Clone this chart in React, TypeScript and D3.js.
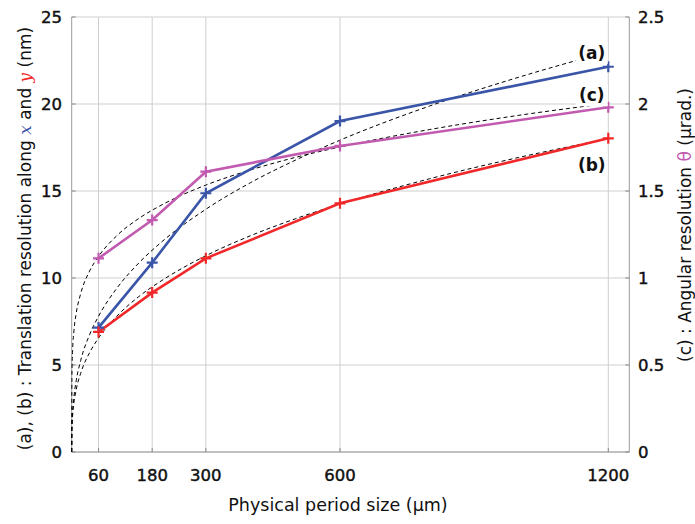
import React from "react";
import * as d3 from "d3";

// ---- data ----
const periods = [60, 180, 300, 600, 1200];
const resX = [7.15, 10.88, 14.87, 19.02, 22.14]; // (a) nm
const resY = [6.9, 9.16, 11.13, 14.29, 18.03]; // (b) nm
const resTheta = [1.113, 1.333, 1.611, 1.759, 1.981]; // (c) µrad

// dashed fit curves
const fitPeriods = [0, 0.5, 2, 5, 10, 20, 40, 60, 100, 150, 200, 300, 400, 500, 600, 800, 1000, 1200];
const fitA = [0, 1.39, 2.29, 3.18, 4.09, 5.25, 6.74, 7.8, 9.38, 10.86, 12.05, 13.95, 15.48, 16.77, 17.92, 19.88, 21.54, 23.01];
const fitB = [0, 1.3, 2.08, 2.83, 3.58, 4.52, 5.71, 6.55, 7.78, 8.93, 9.83, 11.28, 12.43, 13.4, 14.25, 15.7, 16.93, 18.0];
const fitC = [0, 0.446, 0.583, 0.696, 0.796, 0.909, 1.04, 1.124, 1.241, 1.342, 1.418, 1.534, 1.621, 1.693, 1.753, 1.853, 1.935, 2.004];

const xTicks = [60, 180, 300, 600, 1200];
const leftTicks = [0, 5, 10, 15, 20, 25];
const rightTicks = [0, 0.5, 1, 1.5, 2, 2.5];

const seriesLabels = [
  { text: "(a)", x: 1163, y: 22.93 },
  { text: "(c)", x: 1163, y: 20.5 },
  { text: "(b)", x: 1163, y: 16.5 },
];

const BLUE = "#3a55a8";
const RED = "#f0282a";
const MAGENTA = "#c25bb0";
const FONT = "'DejaVu Sans', sans-serif";

export default function App() {
  const W = 695, H = 524;
  const left = 71.7, right = 629.3, top = 17, bottom = 452;
  const x = d3.scaleLinear().domain([0, 1247]).range([left, right]);
  const yL = d3.scaleLinear().domain([0, 25]).range([bottom, top]);
  const yR = d3.scaleLinear().domain([0, 2.5]).range([bottom, top]);

  const line = (xs: number[], ys: number[], ys2: d3.ScaleLinear<number, number>, curve = d3.curveLinear) =>
    d3.line<number>().x((_, i) => x(xs[i])).y((v) => ys2(v)).curve(curve)(ys) || "";

  const plus = (cx: number, cy: number, color: string, key: string) => (
    <path key={key} d={`M${cx - 5.5},${cy}H${cx + 5.5}M${cx},${cy - 5.5}V${cy + 5.5}`} stroke={color} strokeWidth={2.2} />
  );

  const tickStyle = { fontSize: 16.5, fill: "#111", stroke: "#111", strokeWidth: 0.45 } as const;

  return (
    <svg width={W} height={H} style={{ position: "absolute", left: 0, top: 0, background: "#fff" }} fontFamily={FONT}>
      <rect x={0} y={0} width={W} height={H} fill="#fff" />
      {/* grid */}
      {leftTicks.map((t) => (
        <line key={"gy" + t} x1={left} x2={right} y1={yL(t)} y2={yL(t)} stroke="#cfcfcf" strokeWidth={1} />
      ))}
      {xTicks.map((t) => (
        <line key={"gx" + t} x1={x(t)} x2={x(t)} y1={top} y2={bottom} stroke="#cfcfcf" strokeWidth={1} />
      ))}
      {/* axes */}
      <line x1={left} x2={left} y1={top} y2={bottom} stroke="#9a9a9a" />
      <line x1={right} x2={right} y1={top} y2={bottom} stroke="#9a9a9a" />
      <line x1={left} x2={right} y1={bottom} y2={bottom} stroke="#9a9a9a" />
      {xTicks.map((t) => (
        <line key={"tx" + t} x1={x(t)} x2={x(t)} y1={bottom} y2={bottom - 4} stroke="#888" />
      ))}
      {leftTicks.map((t) => (
        <line key={"tl" + t} x1={left} x2={left + 4} y1={yL(t)} y2={yL(t)} stroke="#888" />
      ))}
      {rightTicks.map((t) => (
        <line key={"tr" + t} x1={right} x2={right - 4} y1={yR(t)} y2={yR(t)} stroke="#888" />
      ))}

      {/* dashed fits */}
      <path d={line(fitPeriods, fitA, yL, d3.curveMonotoneX)} fill="none" stroke="#000" strokeWidth={1} strokeDasharray="4,3" />
      <path d={line(fitPeriods, fitB, yL, d3.curveMonotoneX)} fill="none" stroke="#000" strokeWidth={1} strokeDasharray="4,3" />
      <path d={line(fitPeriods, fitC, yR, d3.curveMonotoneX)} fill="none" stroke="#000" strokeWidth={1} strokeDasharray="4,3" />

      {/* data lines */}
      <path d={line(periods, resX, yL)} fill="none" stroke={BLUE} strokeWidth={2.6} />
      <path d={line(periods, resY, yL)} fill="none" stroke={RED} strokeWidth={2.6} />
      <path d={line(periods, resTheta, yR)} fill="none" stroke={MAGENTA} strokeWidth={2.6} />
      {periods.map((p, i) => plus(x(p), yL(resX[i]), BLUE, "mx" + i))}
      {periods.map((p, i) => plus(x(p), yL(resY[i]), RED, "my" + i))}
      {periods.map((p, i) => plus(x(p), yR(resTheta[i]), MAGENTA, "mt" + i))}

      {/* series labels */}
      {seriesLabels.map((l) => (
        <g key={l.text}>
          <rect x={x(l.x) - 16} y={yL(l.y) - 11} width={32} height={22} fill="#fff" />
          <text x={x(l.x)} y={yL(l.y)} textAnchor="middle" dominantBaseline="central" fontSize={17} fontWeight={700} fill="#111">
            {l.text}
          </text>
        </g>
      ))}

      {/* tick labels */}
      {leftTicks.map((t) => (
        <text key={"ll" + t} x={62} y={yL(t)} textAnchor="end" dominantBaseline="central" {...tickStyle}>
          {t}
        </text>
      ))}
      {rightTicks.map((t) => (
        <text key={"rl" + t} x={638} y={yR(t)} textAnchor="start" dominantBaseline="central" {...tickStyle}>
          {t}
        </text>
      ))}
      {xTicks.map((t) => (
        <text key={"xl" + t} x={x(t)} y={475} textAnchor="middle" dominantBaseline="central" {...tickStyle}>
          {t}
        </text>
      ))}

      {/* axis titles */}
      <text x={338} y={505} textAnchor="middle" dominantBaseline="central" fontSize={17.5} fill="#111">
        Physical period size (µm)
      </text>
      <text transform={`translate(25,${(top + bottom) / 2 + 4}) rotate(-90)`} textAnchor="middle" dominantBaseline="central" fontSize={17} fill="#111">
        (a), (b) : Translation resolution along{" "}
        <tspan fill={BLUE} fontFamily="'DejaVu Serif', serif" fontStyle="italic">x</tspan> and{" "}
        <tspan fill={RED} fontFamily="'DejaVu Serif', serif" fontStyle="italic">y</tspan> (nm)
      </text>
      <text transform={`translate(685,225) rotate(-90)`} textAnchor="middle" dominantBaseline="central" fontSize={17} fill="#111">
        (c) : Angular resolution <tspan fill={MAGENTA}>θ</tspan> (µrad.)
      </text>
    </svg>
  );
}
